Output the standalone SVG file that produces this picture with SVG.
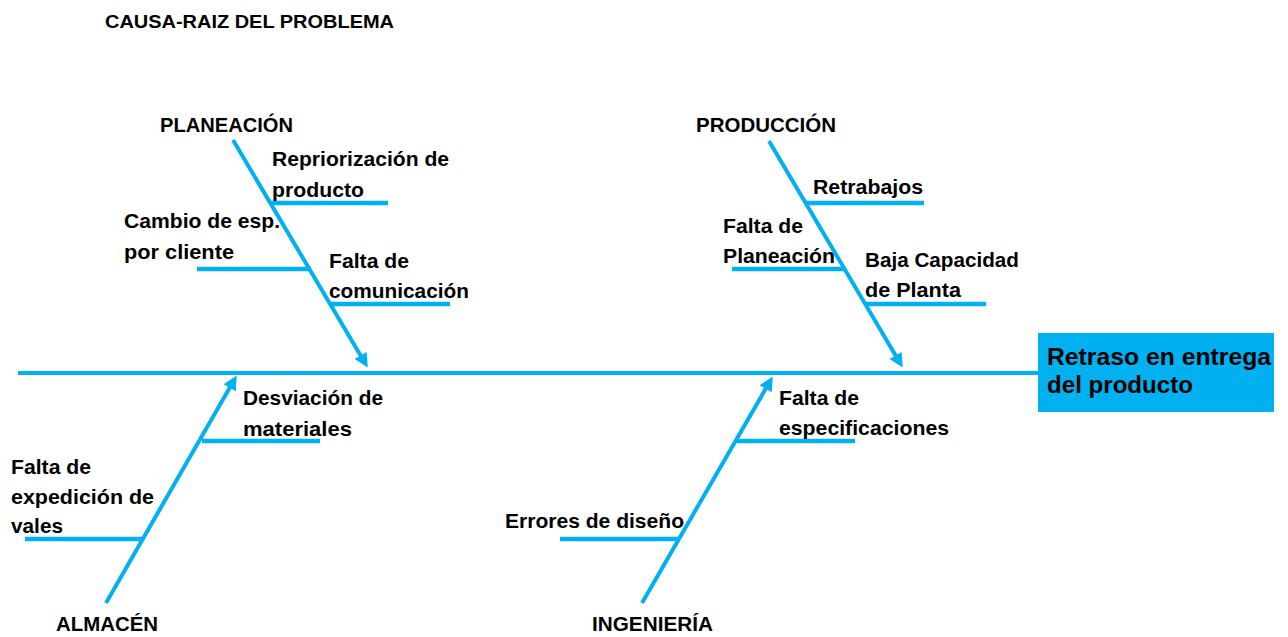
<svg xmlns="http://www.w3.org/2000/svg" width="1288" height="637" viewBox="0 0 1288 637">
<style>
text{font-family:"Liberation Sans",Arial,sans-serif;font-weight:bold;fill:#000}
.cat{font-size:20px}
.cause{font-size:21px}
.title{font-size:19px}
.head{font-size:24px}
.bone{stroke:#00B0F0;stroke-width:4;fill:none}
.sub{stroke:#00B0F0;stroke-width:4.5;fill:none}
</style>
<defs>
<marker id="arr" viewBox="0 0 10 10" refX="7" refY="5" markerWidth="4" markerHeight="3.5" markerUnits="strokeWidth" orient="auto">
<path d="M0,0 L10,5 L0,10 z" fill="#00B0F0"/>
</marker>
</defs>
<rect width="1288" height="637" fill="#fff"/>
<text class="title" x="105" y="28" textLength="289" lengthAdjust="spacingAndGlyphs">CAUSA-RAIZ DEL PROBLEMA</text>

<g id="connectors">
<line class="bone" x1="18" y1="373" x2="1039" y2="373"/>
<line class="bone" x1="233" y1="140" x2="365.6" y2="363.9" marker-end="url(#arr)"/>
<line class="bone" x1="769" y1="141" x2="900.6" y2="363.9" marker-end="url(#arr)"/>
<line class="bone" x1="106" y1="603" x2="234.6" y2="379.2" marker-end="url(#arr)"/>
<line class="bone" x1="642" y1="603" x2="770.6" y2="380.2" marker-end="url(#arr)"/>
<line class="sub" x1="270" y1="203" x2="388" y2="203"/>
<line class="sub" x1="197" y1="269" x2="311" y2="269"/>
<line class="sub" x1="330" y1="304" x2="450" y2="304"/>
<line class="sub" x1="806" y1="203" x2="924" y2="203"/>
<line class="sub" x1="732" y1="269" x2="846" y2="269"/>
<line class="sub" x1="866" y1="304" x2="986" y2="304"/>
<line class="sub" x1="202" y1="441" x2="320" y2="441"/>
<line class="sub" x1="25" y1="539" x2="142" y2="539"/>
<line class="sub" x1="737" y1="441" x2="855" y2="441"/>
<line class="sub" x1="560" y1="539" x2="678" y2="539"/>
</g>

<g id="effect">
<rect x="1038" y="333" width="236" height="79" fill="#00B0F0"/>
<text class="head" x="1047" y="365" textLength="224" lengthAdjust="spacingAndGlyphs">Retraso en entrega</text>
<text class="head" x="1047" y="393" textLength="146" lengthAdjust="spacingAndGlyphs">del producto</text>
</g>

<g id="planeacion">
<text class="cat" x="160" y="132" textLength="133" lengthAdjust="spacingAndGlyphs">PLANEACIÓN</text>
<text class="cause" x="272" y="166" textLength="177" lengthAdjust="spacingAndGlyphs">Repriorización de</text>
<text class="cause" x="272" y="197" textLength="92" lengthAdjust="spacingAndGlyphs">producto</text>
<text class="cause" x="124" y="228" textLength="156" lengthAdjust="spacingAndGlyphs">Cambio de esp.</text>
<text class="cause" x="124" y="259" textLength="110" lengthAdjust="spacingAndGlyphs">por cliente</text>
<text class="cause" x="329" y="268" textLength="80" lengthAdjust="spacingAndGlyphs">Falta de</text>
<text class="cause" x="329" y="298" textLength="140" lengthAdjust="spacingAndGlyphs">comunicación</text>
</g>

<g id="produccion">
<text class="cat" x="696" y="132" textLength="140" lengthAdjust="spacingAndGlyphs">PRODUCCIÓN</text>
<text class="cause" x="813" y="194" textLength="110" lengthAdjust="spacingAndGlyphs">Retrabajos</text>
<text class="cause" x="723" y="233" textLength="80" lengthAdjust="spacingAndGlyphs">Falta de</text>
<text class="cause" x="723" y="263" textLength="112" lengthAdjust="spacingAndGlyphs">Planeación</text>
<text class="cause" x="865" y="267" textLength="154" lengthAdjust="spacingAndGlyphs">Baja Capacidad</text>
<text class="cause" x="865" y="297" textLength="96" lengthAdjust="spacingAndGlyphs">de Planta</text>
</g>

<g id="almacen">
<text class="cat" x="56" y="631" textLength="102" lengthAdjust="spacingAndGlyphs">ALMACÉN</text>
<text class="cause" x="243" y="405" textLength="140" lengthAdjust="spacingAndGlyphs">Desviación de</text>
<text class="cause" x="243" y="436" textLength="109" lengthAdjust="spacingAndGlyphs">materiales</text>
<text class="cause" x="11" y="474" textLength="80" lengthAdjust="spacingAndGlyphs">Falta de</text>
<text class="cause" x="11" y="504" textLength="143" lengthAdjust="spacingAndGlyphs">expedición de</text>
<text class="cause" x="11" y="533" textLength="52" lengthAdjust="spacingAndGlyphs">vales</text>
</g>

<g id="ingenieria">
<text class="cat" x="592" y="631" textLength="121" lengthAdjust="spacingAndGlyphs">INGENIERÍA</text>
<text class="cause" x="779" y="405" textLength="80" lengthAdjust="spacingAndGlyphs">Falta de</text>
<text class="cause" x="779" y="435" textLength="170" lengthAdjust="spacingAndGlyphs">especificaciones</text>
<text class="cause" x="505" y="528" textLength="179" lengthAdjust="spacingAndGlyphs">Errores de diseño</text>
</g>
</svg>
